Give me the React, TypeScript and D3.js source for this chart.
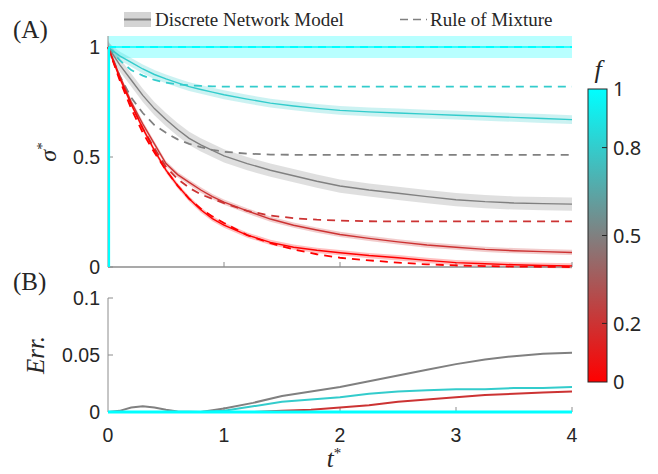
import React from "react";
import * as d3 from "d3";

// ---------- data ----------
const tA = [0, 0.1, 0.2, 0.3, 0.4, 0.5, 0.6, 0.7, 0.8, 0.9, 1.0, 1.2, 1.4, 1.6, 1.8, 2.0, 2.25, 2.5, 2.75, 3.0, 3.25, 3.5, 3.75, 4.0];

const fValues = [0, 0.2, 0.5, 0.8, 1];

// Discrete Network Model (solid)
const model_f0 = [1, 0.86, 0.74, 0.63, 0.53, 0.44, 0.37, 0.31, 0.26, 0.22, 0.19, 0.145, 0.112, 0.09, 0.076, 0.065, 0.052, 0.042, 0.03, 0.02, 0.015, 0.01, 0.007, 0.005];
const model_f02 = [1, 0.87, 0.75, 0.65, 0.56, 0.47, 0.42, 0.385, 0.35, 0.32, 0.295, 0.255, 0.218, 0.19, 0.168, 0.148, 0.13, 0.114, 0.1, 0.09, 0.08, 0.074, 0.07, 0.066];
const model_f05 = [1, 0.92, 0.85, 0.78, 0.72, 0.67, 0.625, 0.585, 0.555, 0.53, 0.505, 0.47, 0.44, 0.415, 0.39, 0.368, 0.35, 0.335, 0.32, 0.306, 0.297, 0.291, 0.288, 0.286];
const model_f08 = [1, 0.96, 0.93, 0.9, 0.875, 0.855, 0.837, 0.82, 0.807, 0.795, 0.783, 0.763, 0.745, 0.732, 0.721, 0.712, 0.705, 0.7, 0.695, 0.69, 0.685, 0.68, 0.675, 0.67];
const model_f1 = [1, 1, 1, 1, 1, 1, 1, 1, 1, 1, 1, 1, 1, 1, 1, 1, 1, 1, 1, 1, 1, 1, 1, 1];

// band half widths
const bandHalf = [0.012, 0.012, 0.03, 0.02, 0.05];

// Rule of Mixture (dashed)
const rom_f0 = [1, 0.85, 0.72, 0.61, 0.52, 0.44, 0.37, 0.31, 0.265, 0.23, 0.2, 0.145, 0.108, 0.08, 0.058, 0.042, 0.03, 0.02, 0.012, 0.007, 0.004, 0.002, 0.001, 0];
const rom_f02 = [1, 0.86, 0.74, 0.63, 0.54, 0.455, 0.4, 0.36, 0.33, 0.31, 0.29, 0.255, 0.234, 0.222, 0.215, 0.211, 0.208, 0.207, 0.207, 0.207, 0.207, 0.207, 0.207, 0.207];
const rom_f05 = [1, 0.87, 0.77, 0.7, 0.645, 0.61, 0.58, 0.56, 0.545, 0.532, 0.524, 0.515, 0.511, 0.51, 0.51, 0.51, 0.51, 0.51, 0.51, 0.51, 0.51, 0.51, 0.51, 0.51];
const rom_f08 = [1, 0.94, 0.895, 0.87, 0.85, 0.838, 0.83, 0.826, 0.823, 0.821, 0.82, 0.82, 0.82, 0.82, 0.82, 0.82, 0.82, 0.82, 0.82, 0.82, 0.82, 0.82, 0.82, 0.82];
const rom_f1 = [1, 1, 1, 1, 1, 1, 1, 1, 1, 1, 1, 1, 1, 1, 1, 1, 1, 1, 1, 1, 1, 1, 1, 1];

// Panel B errors
const tB = [0, 0.1, 0.2, 0.3, 0.4, 0.5, 0.6, 0.8, 1.0, 1.25, 1.5, 1.75, 2.0, 2.25, 2.5, 2.75, 3.0, 3.25, 3.5, 3.75, 4.0];
const err_f0 = [0, 0, 0, 0, 0, 0, 0, 0, 0, 0, 0, 0, 0, 0, 0, 0, 0, 0, 0, 0, 0];
const err_f02 = [0, 0, 0, 0, 0, 0, 0, 0, 0, 0, 0.001, 0.002, 0.004, 0.006, 0.009, 0.011, 0.013, 0.015, 0.016, 0.017, 0.018];
const err_f05 = [0, 0.001, 0.004, 0.005, 0.004, 0.002, 0.0005, 0, 0.003, 0.008, 0.014, 0.018, 0.022, 0.027, 0.032, 0.037, 0.042, 0.046, 0.049, 0.051, 0.052];
const err_f08 = [0, 0, 0, 0, 0, 0, 0, 0, 0.001, 0.005, 0.009, 0.011, 0.013, 0.016, 0.018, 0.019, 0.02, 0.02, 0.021, 0.021, 0.022];
const err_f1 = [0, 0, 0, 0, 0, 0, 0, 0, 0, 0, 0, 0, 0, 0, 0, 0, 0, 0, 0, 0, 0];

const xTicks = [0, 1, 2, 3, 4];
const yTicksA = [0, 0.5, 1];
const yTicksB = [0, 0.05, 0.1];
const yTickLabelsB = ["0", "0.05", "0.1"];
const cbTicks = [0, 0.2, 0.5, 0.8, 1];

const modelSeries = [model_f0, model_f02, model_f05, model_f08, model_f1];
const romSeries = [rom_f0, rom_f02, rom_f05, rom_f08, rom_f1];
const errSeries = [err_f0, err_f02, err_f05, err_f08, err_f1];

// ---------- layout ----------
const W = 658, H = 474;
const X0 = 108, X1 = 572;
const xS = d3.scaleLinear().domain([0, 4]).range([X0, X1]);
const yA = d3.scaleLinear().domain([0, 1]).range([267, 47]);
const yB = d3.scaleLinear().domain([0, 0.1]).range([412, 298]);
const cmap = d3.scaleLinear<string>().domain([0, 0.5, 1]).range(["#ff0000", "#808080", "#00ffff"]).interpolate(d3.interpolateRgb);
const cbY = d3.scaleLinear().domain([0, 1]).range([382, 89]);

const AX = "#8c8c8c";
const TXT = "#262626";
const SANS = "'Liberation Sans', Arial, sans-serif";
const SERIF = "'Liberation Serif', 'Times New Roman', serif";

export default function App() {
  const lineA = (vals: number[]) =>
    d3.line<number>().x((_, i) => xS(tA[i])).y((v) => yA(v))(vals) || "";
  const areaA = (vals: number[], h: number) =>
    d3.area<number>().x((_, i) => xS(tA[i])).y0((v) => yA(v - h)).y1((v) => yA(v + h))(vals) || "";
  const lineB = (vals: number[]) =>
    d3.line<number>().x((_, i) => xS(tB[i])).y((v) => yB(v))(vals) || "";

  const drawOrder = [4, 3, 2, 1, 0];

  return (
    <svg width={W} height={H} style={{ position: "absolute", left: 0, top: 0, background: "#fff" }}>
      <defs>
        <linearGradient id="cb" x1="0" y1="1" x2="0" y2="0">
          {[0, 0.5, 1].map((s) => (
            <stop key={s} offset={s} stopColor={cmap(s)} />
          ))}
        </linearGradient>
      </defs>

      {/* Panel labels */}
      <text x={13} y={38} fontFamily={SERIF} fontSize={25} fill={TXT}>(A)</text>
      <text x={13} y={290} fontFamily={SERIF} fontSize={25} fill={TXT}>(B)</text>

      {/* Legend */}
      <rect x={124} y={12} width={27} height={15} fill="#d4d4d4" />
      <line x1={124} x2={151} y1={19.5} y2={19.5} stroke="#808080" strokeWidth={2} />
      <text x={155} y={26} fontFamily={SERIF} fontSize={19} fill={TXT}>Discrete Network Model</text>
      <line x1={400} x2={427} y1={19.5} y2={19.5} stroke="#808080" strokeWidth={1.6} strokeDasharray="8,5" />
      <text x={430} y={26} fontFamily={SERIF} fontSize={19} fill={TXT}>Rule of Mixture</text>

      {/* Panel A bands */}
      {drawOrder.map((k) => (
        <path key={"band" + k} d={areaA(modelSeries[k], bandHalf[k])} fill={cmap(fValues[k])} fillOpacity={k === 4 ? 0.28 : 0.25} stroke="none" />
      ))}

      {/* Panel A axes */}
      <line x1={X0} x2={X0} y1={yA(1.05)} y2={yA(0)} stroke={AX} strokeWidth={1} />
      <line x1={X0} x2={X1} y1={yA(0)} y2={yA(0)} stroke={AX} strokeWidth={1.5} />
      {xTicks.slice(1).map((t) => (
        <line key={"xta" + t} x1={xS(t)} x2={xS(t)} y1={yA(0)} y2={yA(0) - 5} stroke={AX} />
      ))}
      {yTicksA.map((v) => (
        <g key={"yta" + v}>
          <line x1={X0} x2={X0 + 5} y1={yA(v)} y2={yA(v)} stroke={AX} />
          <text x={100} y={yA(v)} dy="0.35em" textAnchor="end" fontFamily={SANS} fontSize={19.5} fill={TXT}>{String(v)}</text>
        </g>
      ))}

      {/* Panel A lines */}
      {drawOrder.map((k) => (
        <path key={"rom" + k} d={lineA(romSeries[k])} fill="none" stroke={cmap(fValues[k])} strokeWidth={1.8} strokeDasharray="8,6" />
      ))}
      {drawOrder.map((k) => (
        <path key={"mod" + k} d={lineA(modelSeries[k])} fill="none" stroke={cmap(fValues[k])} strokeWidth={1.4} />
      ))}
      {/* f = 1 vertical rise at t = 0 */}
      <line x1={X0 + 1} x2={X0 + 1} y1={yA(0)} y2={yA(1)} stroke={cmap(1)} strokeWidth={2.2} />

      <text transform={`translate(56,152) rotate(-90)`} textAnchor="middle" fontFamily={SERIF} fontStyle="italic" fontSize={24} fill={TXT}>
        σ<tspan fontSize={15} dy="-9" fontStyle="normal">*</tspan>
      </text>

      {/* Panel B axes */}
      <line x1={X0} x2={X0} y1={yB(0.1)} y2={yB(0)} stroke={AX} strokeWidth={1} />
      <line x1={X0} x2={X1} y1={yB(0)} y2={yB(0)} stroke={AX} strokeWidth={1.2} />
      {xTicks.slice(1).map((t) => (
        <line key={"xtb" + t} x1={xS(t)} x2={xS(t)} y1={yB(0)} y2={yB(0) - 5} stroke={AX} />
      ))}
      {yTicksB.map((v, i) => (
        <g key={"ytb" + v}>
          <line x1={X0} x2={X0 + 5} y1={yB(v)} y2={yB(v)} stroke={AX} />
          <text x={100} y={yB(v)} dy="0.35em" textAnchor="end" fontFamily={SANS} fontSize={19.5} fill={TXT}>{yTickLabelsB[i]}</text>
        </g>
      ))}
      {xTicks.map((t) => (
        <text key={"xl" + t} x={xS(t)} y={442} textAnchor="middle" fontFamily={SANS} fontSize={19.5} fill={TXT}>{String(t)}</text>
      ))}

      {/* Panel B lines */}
      {[0, 1, 2, 3, 4].map((k) => (
        <path key={"err" + k} d={lineB(errSeries[k])} fill="none" stroke={cmap(fValues[k])} strokeWidth={k === 4 ? 3 : 2} />
      ))}

      <text transform={`translate(44,355) rotate(-90)`} textAnchor="middle" fontFamily={SERIF} fontStyle="italic" fontSize={25} fill={TXT}>
        Err.
      </text>
      <text x={334} y={467} textAnchor="middle" fontFamily={SERIF} fontStyle="italic" fontSize={25} fill={TXT}>
        t<tspan fontSize={15} dy="-9" fontStyle="normal">*</tspan>
      </text>

      {/* Colorbar */}
      <text x={598} y={78} textAnchor="middle" fontFamily={SERIF} fontStyle="italic" fontSize={26} fill={TXT}>f</text>
      <rect x={588} y={cbY(1)} width={19} height={cbY(0) - cbY(1)} fill="url(#cb)" stroke={TXT} strokeWidth={1} />
      {cbTicks.map((v) => (
        <g key={"cb" + v}>
          {v > 0 && v < 1 && <line x1={602} x2={607} y1={cbY(v)} y2={cbY(v)} stroke={TXT} />}
          <text x={613} y={cbY(v)} dy="0.36em" fontFamily="'Noto Sans', sans-serif" fontSize={20} fill={TXT}>{String(v)}</text>
        </g>
      ))}
    </svg>
  );
}
